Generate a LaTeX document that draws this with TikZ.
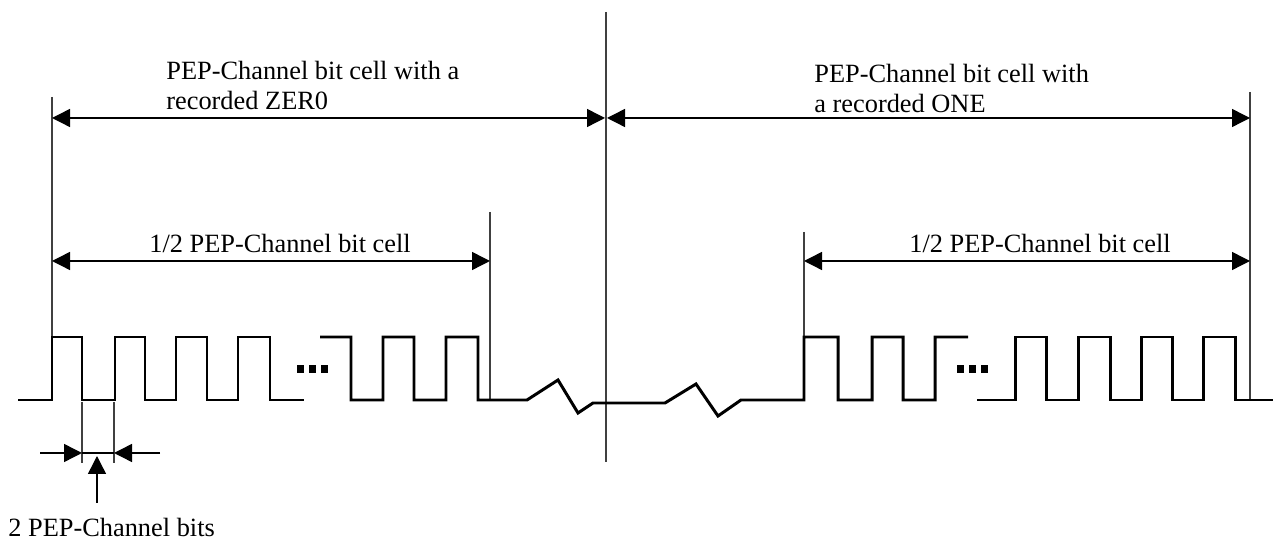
\documentclass[tikz,border=0pt]{standalone}
\usepackage{fontspec}
\setmainfont{Liberation Serif}
\usetikzlibrary{arrows.meta}
\tikzset{
	sig/.style={line width=1.7pt},
	guide/.style={line width=0.6pt,black!75},
	dimarr/.style={line width=0.8pt,{Triangle[length=0.36cm,width=0.36cm]}-{Triangle[length=0.36cm,width=0.36cm]}},
	onearr/.style={line width=0.8pt,-{Triangle[length=0.36cm,width=0.36cm]}},
	lbl/.style={anchor=base west,inner sep=0pt,font=\fontsize{15}{17}\selectfont}
}
\begin{document}
\begin{tikzpicture}[x=0.2mm,y=-0.2mm]
	\useasboundingbox (0,0) rectangle (1274,541);
	% guide lines
	\coordinate (zeroT) at (52,97);   \coordinate (zeroB) at (52,337);
	\coordinate (midT) at (606,12);   \coordinate (midB) at (606,462);
	\coordinate (oneT) at (1250,92);  \coordinate (oneB) at (1250,400);
	\coordinate (halfzT) at (490,212); \coordinate (halfzB) at (490,400);
	\coordinate (halfoT) at (804,232); \coordinate (halfoB) at (804,337);
	\coordinate (bitaT) at (82,402);  \coordinate (bitaB) at (82,463);
	\coordinate (bitbT) at (114,402); \coordinate (bitbB) at (114,463);
	\foreach \a in {zero,mid,one,halfz,halfo,bita,bitb}\draw[guide] (\a T)--(\a B);
	% signal
	\draw[sig] (18,400) -| (52,337) -| (82,400) -| (115,337) -| (145,400) -| (176,337) -| (207,400) -| (238,337) -| (270,400) -- (304,400);
	\draw[sig] (320,337) -| (351,400) -| (383,337) -| (414,400) -| (446,337) -| (478,400) -- (527,400) -- (558,380) -- (578,413) -- (593,403) -- (665,403) -- (696,384) -- (718,416) -- (741,400) -| (804,337) -| (838,400) -| (872,337) -| (903,400) -| (935,337) -- (968,337);
	\draw[sig] (977,400) -| (1015,337) -| (1046,400) -| (1078,337) -| (1110,400) -| (1141,337) -| (1172,400) -| (1203,337) -| (1235,400) -- (1273,400);
	\foreach \x in {297,309,321,957,969,981}\fill (\x,365) rectangle ++(7,8);
	% dimensions
	\coordinate (zeroL) at (52,118);  \coordinate (zeroR) at (605,118);
	\coordinate (oneL) at (607,118);  \coordinate (oneR) at (1250,118);
	\coordinate (hzL) at (52,261);    \coordinate (hzR) at (490,261);
	\coordinate (hoL) at (804,261);   \coordinate (hoR) at (1250,261);
	\draw[dimarr] (zeroL)--(zeroR);
	\draw[dimarr] (oneL)--(oneR);
	\draw[dimarr] (hzL)--(hzR);
	\draw[dimarr] (hoL)--(hoR);
	\coordinate (bitaL) at (40,453);  \coordinate (bitaR) at (82,453);
	\coordinate (bitbR) at (160,453); \coordinate (bitbL) at (114,453);
	\coordinate (bitsB) at (97,503);  \coordinate (bitsT) at (97,456);
	\draw[onearr] (bitaL)--(bitaR);
	\draw[onearr] (bitbR)--(bitbL);
	\draw[line width=0.8pt] (bitaR)--(bitbL);
	\draw[onearr] (bitsB)--(bitsT);
	% labels
	\node[lbl] (zeroA) at (166,80) {PEP-Channel bit cell with a};
	\node[lbl] (zeroB) at (166,110) {recorded ZER0};
	\node[lbl] (oneA) at (814,83) {PEP-Channel bit cell with};
	\node[lbl] (oneB) at (814,113) {a recorded ONE};
	\node[lbl] (halfz) at (149,253) {1/2 PEP-Channel bit cell};
	\node[lbl] (halfo) at (909,253) {1/2 PEP-Channel bit cell};
	\node[lbl] (bits) at (8,537) {2 PEP-Channel bits};
\end{tikzpicture}
\end{document}
